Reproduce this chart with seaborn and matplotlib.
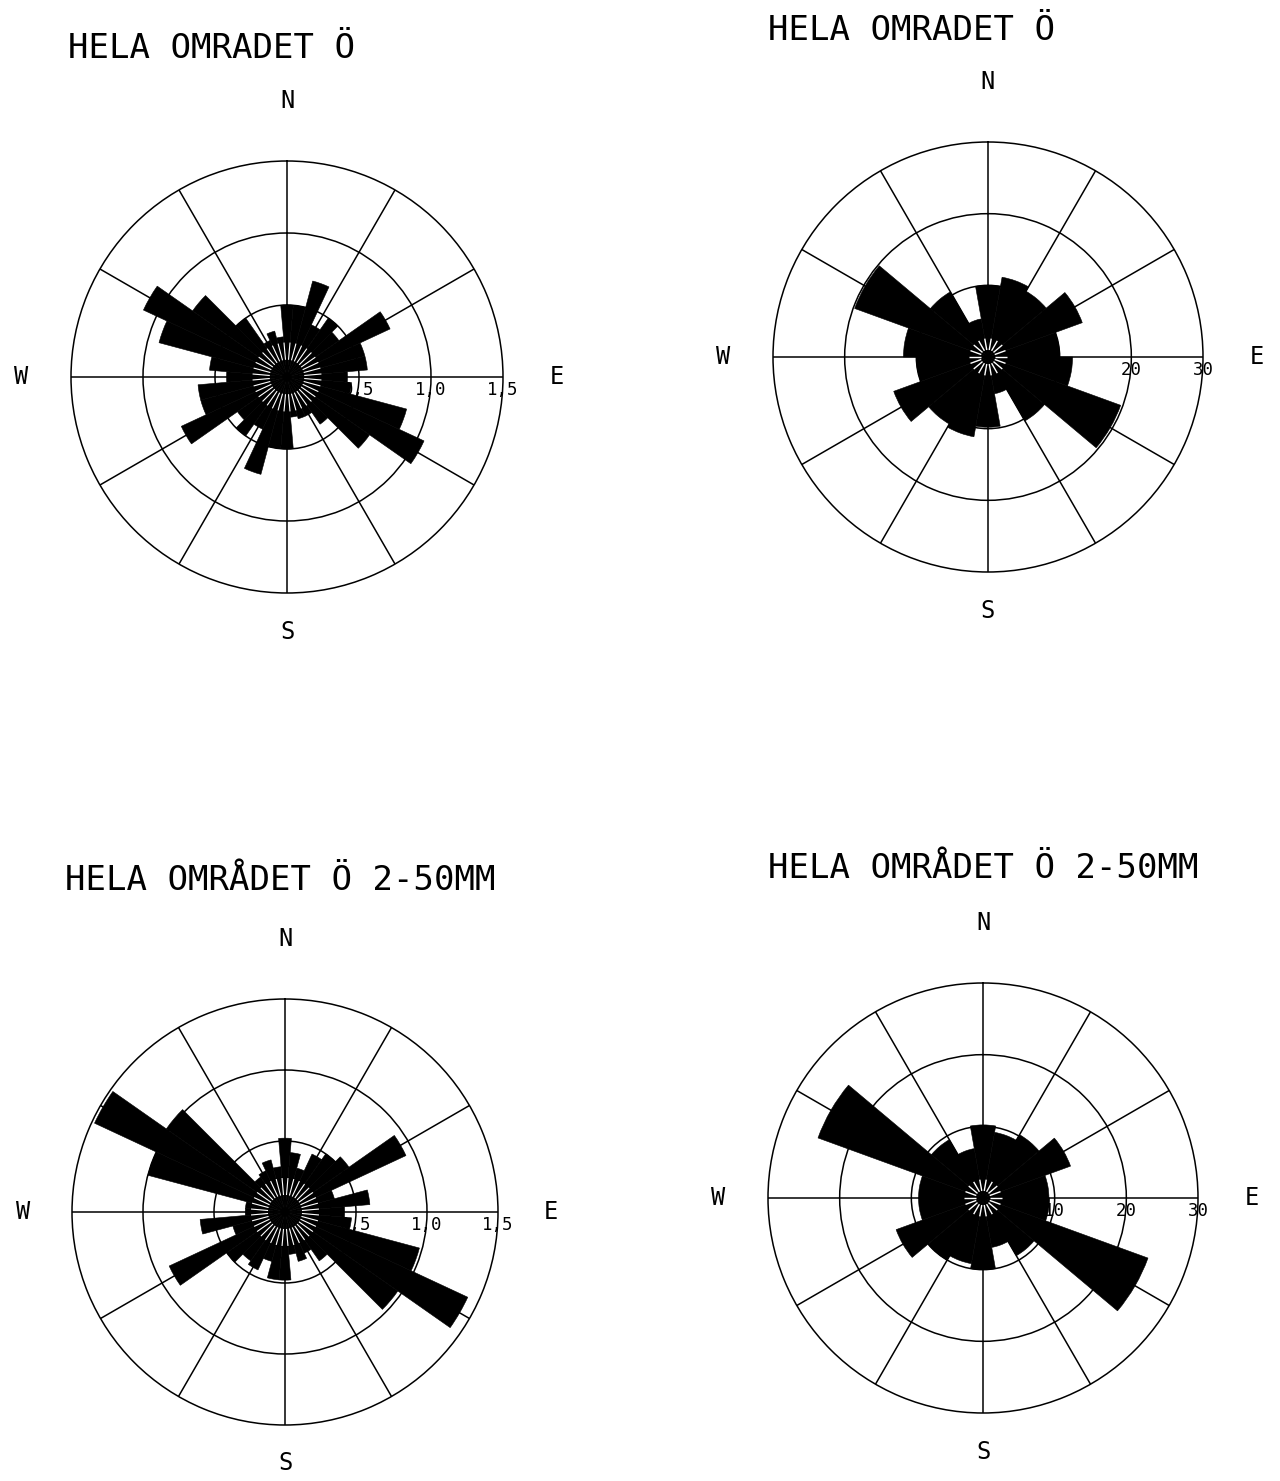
import numpy as np
import matplotlib
matplotlib.use("Agg")
import matplotlib.pyplot as plt
import matplotlib.transforms as mtransforms
import seaborn as sns

sns.set_theme(style="white")
plt.rcParams["font.family"] = ["DejaVu Sans Mono", "DejaVu Sans"]

# Class midpoints, degrees clockwise from north
dir_10 = list(range(0, 360, 10))
dir_20 = list(range(0, 360, 20))

# Whole area, all sizes: 10-degree classes
freq_all = [0.50, 0.50, 0.69, 0.40, 0.50, 0.44, 0.79, 0.56, 0.56, 0.42,
            0.45, 0.86, 1.05, 0.70, 0.40, 0.30, 0.30, 0.28, 0.50, 0.50,
            0.70, 0.40, 0.50, 0.42, 0.81, 0.62, 0.62, 0.42, 0.54, 0.92,
            1.10, 0.80, 0.50, 0.28, 0.33, 0.28]

# Whole area, all sizes: 20-degree classes (percent)
pct_all = [10.0, 11.3, 10.6, 14.0, 10.0, 11.8, 19.7, 10.3, 5.2,
           9.8, 11.3, 10.8, 14.0, 10.0, 11.8, 19.8, 10.5, 5.4]

# Whole area, 2-50 mm: 10-degree classes
freq_2_50 = [0.52, 0.42, 0.32, 0.45, 0.50, 0.55, 0.94, 0.36, 0.60, 0.42,
             0.47, 0.98, 1.42, 0.97, 0.42, 0.32, 0.36, 0.30, 0.48, 0.48,
             0.36, 0.45, 0.42, 0.50, 0.90, 0.38, 0.60, 0.28, 0.28, 1.00,
             1.48, 1.02, 0.30, 0.32, 0.38, 0.32]

# Whole area, 2-50 mm: 20-degree classes (percent)
pct_2_50 = [10.2, 9.3, 10.2, 13.0, 9.2, 9.3, 24.5, 9.3, 7.0,
            10.0, 9.3, 10.0, 12.9, 9.0, 9.0, 24.5, 9.4, 7.0]

title_top = "HELA OMRADET Ö"
title_bottom = "HELA OMRÅDET Ö 2-50MM"

rings_freq = [0.5, 1.0, 1.5]
ring_labels_freq = ["0,5", "1,0", "1,5"]
rings_pct = [10, 20, 30]
ring_labels_pct = ["10", "20", "30"]

compass = ["N", "E", "S", "W"]
compass_dir = [0, 90, 180, 270]
compass_dist = [1.28, 1.25, 1.18, 1.23]

W_PX, H_PX = 1280, 1481
fig = plt.figure(figsize=(W_PX / 100, H_PX / 100), dpi=100)
fig.patch.set_facecolor("white")


def box(cx, cy, r):
    return [(cx - r) / W_PX, 1 - (cy + r) / H_PX, 2 * r / W_PX, 2 * r / H_PX]


def rose(rect, dirs, values, step, rings, ring_labels, hub, hub_lw):
    ax = fig.add_axes(rect, projection="polar")
    ax.set_facecolor("white")
    ax.set_theta_zero_location("N")
    ax.set_theta_direction(-1)
    rmax = rings[-1]
    ax.set_ylim(0, rmax)

    theta = np.deg2rad(dirs)
    width = np.deg2rad(step)
    ax.bar(theta, values, width=width, color="black", edgecolor="black",
           linewidth=0.4, zorder=3)

    # thin white strokes in the hub along class limits
    for e in theta + width / 2:
        ax.plot([e, e], hub, color="white", lw=hub_lw, zorder=4,
                solid_capstyle="butt")

    ax.set_thetagrids(range(0, 360, 30), labels=[])
    ax.set_rgrids(rings[:-1], labels=[])
    ax.grid(True, color="black", lw=1.1)
    ax.set_axisbelow(True)
    ax.spines["polar"].set_color("black")
    ax.spines["polar"].set_linewidth(1.1)

    down = mtransforms.ScaledTranslation(0, -3 / 72, fig.dpi_scale_trans)
    for r, lab in zip(rings, ring_labels):
        ax.text(np.pi / 2, r, lab, ha="center", va="top", fontsize=12.5,
                color="black", zorder=6, transform=ax.transData + down)

    for lab, d, k in zip(compass, compass_dir, compass_dist):
        ax.text(np.deg2rad(d), k * rmax, lab, ha="center", va="center",
                fontsize=17, color="black", clip_on=False)
    return ax


rose(box(287, 377, 216), dir_10, freq_all, 10, rings_freq, ring_labels_freq,
     [0.12, 0.24], 0.8)
rose(box(988, 357, 215), dir_20, pct_all, 20, rings_pct, ring_labels_pct,
     [1.0, 2.6], 1.0)
rose(box(285, 1212, 213), dir_10, freq_2_50, 10, rings_freq, ring_labels_freq,
     [0.12, 0.24], 0.8)
rose(box(983, 1198, 215), dir_20, pct_2_50, 20, rings_pct, ring_labels_pct,
     [1.0, 2.6], 1.0)

title_kw = dict(fontsize=24.5, ha="left", va="center", color="black")
fig.text(68 / W_PX, 1 - 48 / H_PX, title_top, **title_kw)
fig.text(768 / W_PX, 1 - 30 / H_PX, title_top, **title_kw)
fig.text(65 / W_PX, 1 - 880 / H_PX, title_bottom, **title_kw)
fig.text(768 / W_PX, 1 - 868 / H_PX, title_bottom, **title_kw)

fig.savefig("out.png", dpi=100, facecolor="white")
